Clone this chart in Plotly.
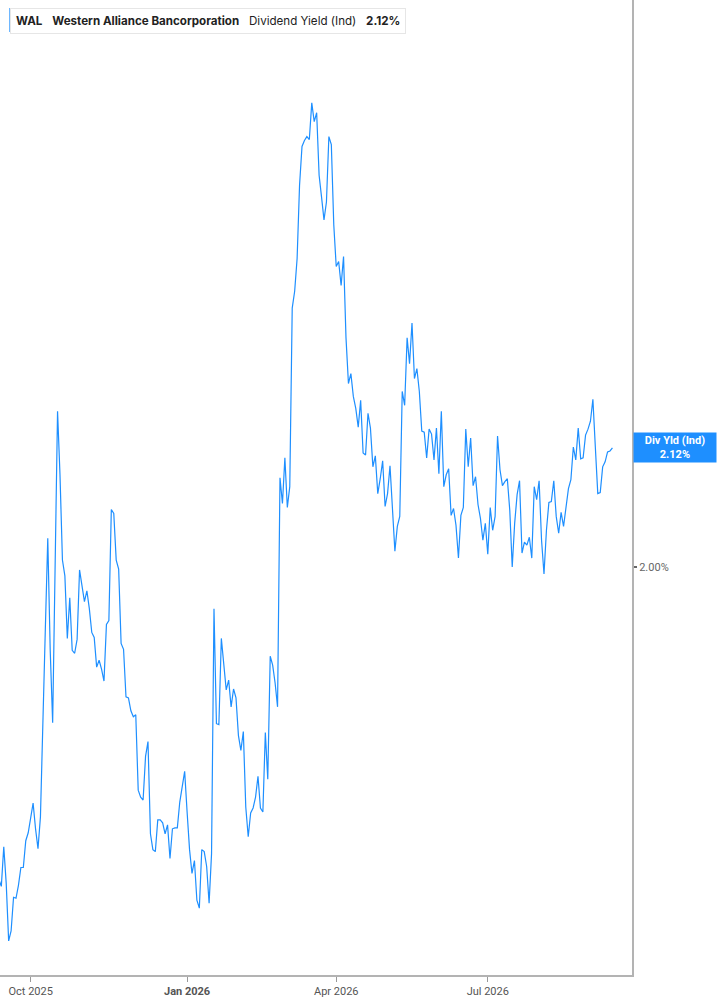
#!/usr/bin/env python3
"""WAL indicated dividend yield, daily, Sep 2025 - Sep 2026 (trading days only)."""
import plotly.graph_objects as go

# trading dates per month
sep25 = ["2025-09-%02d" % d for d in (12, 15, 16, 17, 18, 19, 22, 23, 24, 25, 26, 29, 30)]
oct25 = ["2025-10-%02d" % d for d in (1, 2, 3, 6, 7, 8, 9, 10, 13, 14, 15, 16, 17, 20, 21, 22, 23, 24, 27, 28, 29, 30, 31)]
nov25 = ["2025-11-%02d" % d for d in (3, 4, 5, 6, 7, 10, 11, 12, 13, 14, 17, 18, 19, 20, 21, 24, 25, 26, 28)]
dec25 = ["2025-12-%02d" % d for d in (1, 2, 3, 4, 5, 8, 9, 10, 11, 12, 15, 16, 17, 18, 19, 22, 23, 24, 26, 29, 30, 31)]
jan26 = ["2026-01-%02d" % d for d in (2, 5, 6, 7, 8, 9, 12, 13, 14, 15, 16, 20, 21, 22, 23, 26, 27, 28, 29, 30)]
feb26 = ["2026-02-%02d" % d for d in (2, 3, 4, 5, 6, 9, 10, 11, 12, 13, 17, 18, 19, 20, 23, 24, 25, 26, 27)]
mar26 = ["2026-03-%02d" % d for d in (2, 3, 4, 5, 6, 9, 10, 11, 12, 13, 16, 17, 18, 19, 20, 23, 24, 25, 26, 27, 30, 31)]
apr26 = ["2026-04-%02d" % d for d in (1, 2, 6, 7, 8, 9, 10, 13, 14, 15, 16, 17, 20, 21, 22, 23, 24, 27, 28, 29, 30)]
may26 = ["2026-05-%02d" % d for d in (1, 4, 5, 6, 7, 8, 11, 12, 13, 14, 15, 18, 19, 20, 21, 22, 26, 27, 28, 29)]
jun26 = ["2026-06-%02d" % d for d in (1, 2, 3, 4, 5, 8, 9, 10, 11, 12, 15, 16, 17, 18, 22, 23, 24, 25, 26, 29, 30)]
jul26 = ["2026-07-%02d" % d for d in (1, 2, 6, 7, 8, 9, 10, 13, 14, 15, 16, 17, 20, 21, 22, 23, 24, 27, 28, 29, 30, 31)]
aug26 = ["2026-08-%02d" % d for d in (3, 4, 5, 6, 7, 10, 11, 12, 13, 14, 17, 18, 19, 20, 21, 24, 25, 26, 27, 28, 31)]
sep26 = ["2026-09-%02d" % d for d in (1, 2, 3, 4, 8, 9, 10, 11, 14)]

# dividend yield (%), same order
y_sep25 = [1.685, 1.678, 1.718, 1.681, 1.623, 1.633, 1.667, 1.666, 1.679, 1.697, 1.697, 1.724, 1.732]
y_oct25 = [1.749, 1.762, 1.736, 1.716, 1.748, 1.832, 1.937, 2.029, 1.916, 1.843, 2.000, 2.157, 2.093,
           2.007, 1.991, 1.928, 1.969, 1.916, 1.913, 1.927, 1.997, 1.981, 1.965]
y_nov25 = [1.976, 1.958, 1.934, 1.929, 1.899, 1.906, 1.897, 1.885, 1.942, 1.946, 2.058, 2.054, 2.007,
           1.998, 1.923, 1.917, 1.869, 1.868, 1.855]
y_dec25 = [1.849, 1.851, 1.775, 1.768, 1.765, 1.809, 1.824, 1.731, 1.715, 1.713, 1.745, 1.745, 1.742,
           1.731, 1.740, 1.706, 1.736, 1.737, 1.737, 1.763, 1.777, 1.794]
y_jan26 = [1.753, 1.715, 1.691, 1.704, 1.664, 1.656, 1.715, 1.713, 1.698, 1.661, 1.711, 1.958, 1.842,
           1.841, 1.928, 1.900, 1.876, 1.886, 1.859, 1.877]
y_feb26 = [1.868, 1.830, 1.815, 1.834, 1.758, 1.728, 1.752, 1.757, 1.768, 1.789, 1.757, 1.753, 1.833,
           1.786, 1.910, 1.901, 1.883, 1.859, 2.090]
y_mar26 = [2.064, 2.110, 2.060, 2.081, 2.261, 2.278, 2.311, 2.385, 2.424, 2.430, 2.434, 2.431, 2.468,
           2.449, 2.458, 2.395, 2.373, 2.350, 2.368, 2.434, 2.426, 2.345]
y_apr26 = [2.303, 2.308, 2.284, 2.313, 2.231, 2.185, 2.195, 2.172, 2.160, 2.141, 2.168, 2.115, 2.113,
           2.155, 2.140, 2.101, 2.112, 2.074, 2.089, 2.107, 2.061]
y_may26 = [2.074, 2.102, 2.056, 2.016, 2.041, 2.051, 2.177, 2.163, 2.231, 2.205, 2.246, 2.190, 2.200,
           2.177, 2.137, 2.136, 2.110, 2.139, 2.134, 2.108]
y_jun26 = [2.140, 2.094, 2.157, 2.081, 2.093, 2.099, 2.052, 2.059, 2.042, 2.009, 2.052, 2.060, 2.139,
           2.101, 2.130, 2.082, 2.091, 2.063, 2.049, 2.027, 2.044]
y_jul26 = [2.013, 2.060, 2.037, 2.051, 2.132, 2.098, 2.082, 2.086, 2.089, 2.057, 2.000, 2.044, 2.073,
           2.087, 2.014, 2.025, 2.022, 2.030, 2.009, 2.081, 2.068, 2.087]
y_aug26 = [2.027, 1.993, 2.037, 2.065, 2.066, 2.087, 2.051, 2.034, 2.055, 2.041, 2.059, 2.079, 2.088,
           2.121, 2.108, 2.140, 2.109, 2.110, 2.133, 2.139, 2.147]
y_sep26 = [2.169, 2.121, 2.074, 2.075, 2.101, 2.106, 2.116, 2.117, 2.120]

holidays = ["2025-11-27", "2025-12-25", "2026-01-01", "2026-01-19", "2026-02-16",
            "2026-04-03", "2026-05-25", "2026-06-19", "2026-07-03", "2026-09-07"]
tick_dates = ["2025-10-01", "2026-01-02", "2026-04-01", "2026-07-01"]
tick_labels = ["Oct 2025", "<b>Jan 2026</b>", "Apr 2026", "Jul 2026"]

ticker = "WAL"
company = "Western Alliance Bancorporation"
metric = "Dividend Yield (Ind)"

dates = sep25 + oct25 + nov25 + dec25 + jan26 + feb26 + mar26 + apr26 + may26 + jun26 + jul26 + aug26 + sep26
yld = (y_sep25 + y_oct25 + y_nov25 + y_dec25 + y_jan26 + y_feb26 + y_mar26 + y_apr26
       + y_may26 + y_jun26 + y_jul26 + y_aug26 + y_sep26)
last = yld[-1]

BLUE = "#1e8fff"
AXIS = "#b3b3b3"
FONT = "Roboto"

fig = go.Figure()
fig.add_trace(go.Scatter(x=dates, y=yld, mode="lines",
                         line=dict(color=BLUE, width=1.2), showlegend=False,
                         hovertemplate="%{x|%b %d, %Y}: %{y:.2f}%<extra></extra>"))

fig.update_layout(
    width=717, height=1005,
    margin=dict(l=0, r=85, t=0, b=30),
    paper_bgcolor="white", plot_bgcolor="white",
    font=dict(family=FONT, size=11, color="#555555"),
    xaxis=dict(type="date", range=["2025-09-12 11:00", "2026-09-24"],
               rangebreaks=[dict(bounds=["sat", "mon"]), dict(values=holidays)],
               tickvals=tick_dates, ticktext=tick_labels,
               showgrid=False, zeroline=False,
               showline=True, linecolor=AXIS, linewidth=2,
               ticks="outside", ticklen=5, tickcolor="#999999", tickwidth=1,
               tickfont=dict(family=FONT, size=11, color="#555555")),
    yaxis=dict(side="right", range=[1.5886, 2.5717],
               tickvals=[2.0], ticktext=["2.00%"],
               showgrid=False, zeroline=False,
               showline=True, linecolor=AXIS, linewidth=2,
               ticks="outside", ticklen=3, tickcolor="#666666", tickwidth=2,
               tickfont=dict(family=FONT, size=11, color="#666666")),
)

# current-value tag on the right axis
fig.add_annotation(xref="paper", x=1, xanchor="left", xshift=1,
                   yref="y", y=last, yanchor="middle",
                   text=f"<b>Div Yld (Ind)<br>{last:.2f}%</b>", showarrow=False,
                   align="center", width=80, bgcolor=BLUE, borderpad=1,
                   font=dict(family=FONT, size=11, color="white"))

# header chip
fig.add_annotation(xref="paper", yref="paper", x=0.0165, y=0.9918,
                   xanchor="left", yanchor="top", showarrow=False,
                   text=f"<b>{ticker}</b>   <b>{company}</b>   {metric}   <b>{last:.2f}%</b>",
                   bgcolor="white", bordercolor="#e6e6e6", borderwidth=1, borderpad=5,
                   font=dict(family="Inter", size=11.6, color="#222222"))
fig.add_shape(type="rect", xref="paper", yref="paper",
              x0=0.0148, x1=0.0192, y0=0.9672, y1=0.9918,
              fillcolor=BLUE, line=dict(width=0))

# the page body has a default 8px margin; drop it so the chart sits at 0,0
fig.write_html("out.html", config={"displayModeBar": False},
               post_script="document.body.style.margin='0';")
